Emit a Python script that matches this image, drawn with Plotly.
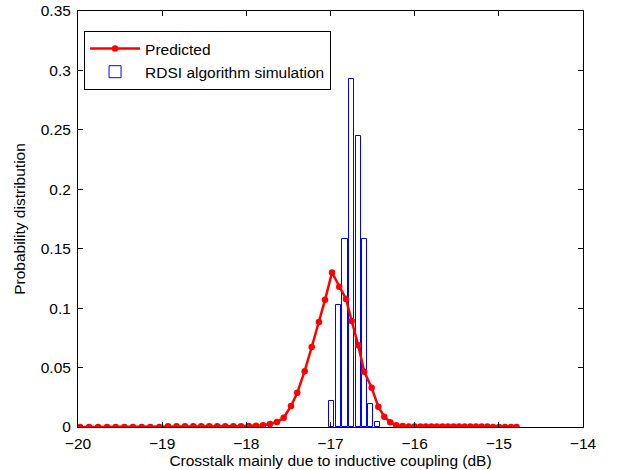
import plotly.graph_objects as go

# Predicted curve (dB, probability)
pred_x = [-19.976, -19.869, -19.762, -19.655, -19.552, -19.450, -19.347, -19.243, -19.141, -19.034,
          -18.931, -18.830, -18.729, -18.630, -18.535, -18.440, -18.345, -18.250, -18.155, -18.063,
          -17.972, -17.885, -17.802, -17.719, -17.636, -17.556, -17.469, -17.395, -17.307, -17.223,
          -17.137, -17.065, -16.982, -16.896, -16.816, -16.748, -16.670, -16.599, -16.511, -16.432,
          -16.361, -16.290, -16.218, -16.142, -16.071, -16.000, -15.931, -15.866, -15.800, -15.735,
          -15.669, -15.604, -15.539, -15.473, -15.406, -15.339, -15.271, -15.204, -15.137, -15.069,
          -14.998, -14.927, -14.856, -14.790]
pred_y = [0.0, 0.0, 0.0, 0.0, 0.0, 0.0, 0.0, 0.0, 0.0, 0.0,
          0.0006, 0.0006, 0.0006, 0.0006, 0.0006, 0.0006, 0.0006, 0.0006, 0.0006, 0.0007,
          0.0008, 0.0010, 0.0014, 0.0025, 0.0042, 0.0078, 0.0177, 0.0288, 0.0470, 0.0673,
          0.0883, 0.1070, 0.1300, 0.1180, 0.1077, 0.0892, 0.0687, 0.0465, 0.0331, 0.0171,
          0.0087, 0.0040, 0.0014, 0.0008, 0.0005, 0.0005, 0.0005, 0.0005, 0.0005, 0.0005,
          0.0005, 0.0005, 0.0005, 0.0005, 0.0005, 0.0005, 0.0005, 0.0005, 0.0005, 0.0,
          0.0, 0.0, 0.0, 0.0]

# RDSI algorithm simulation histogram
sim_x = [-16.986, -16.907, -16.828, -16.754, -16.671, -16.600, -16.522, -16.439]
sim_y = [0.022, 0.103, 0.158, 0.293, 0.245, 0.158, 0.019, 0.004]
bin_width = 0.062

x_ticks = [-20, -19, -18, -17, -16, -15, -14]
y_ticks = [0, 0.05, 0.1, 0.15, 0.2, 0.25, 0.3, 0.35]

FONT = "Liberation Sans, Arial, sans-serif"
FS = 15.5

fig = go.Figure()
fig.add_trace(go.Bar(
    x=sim_x, y=sim_y, width=bin_width,
    name="RDSI algorithm simulation",
    marker=dict(color="rgba(255,255,255,0)", line=dict(color="#0000ff", width=1)),
    legendrank=2, legendgroup="b",
))
fig.add_trace(go.Scatter(
    x=pred_x, y=pred_y, mode="lines+markers",
    name="Predicted",
    line=dict(color="#ff0000", width=2.5),
    marker=dict(color="#ff0000", size=6.5),
    legendrank=1, legendgroup="a",
))

axis_common = dict(
    showline=True, linecolor="black", linewidth=1, mirror="ticks",
    ticks="inside", ticklen=5, tickcolor="black", tickwidth=1,
    showgrid=False, zeroline=False, automargin=False,
    tickfont=dict(family=FONT, size=FS, color="black"),
)

fig.update_layout(
    width=636, height=470,
    margin=dict(l=78, r=53, t=11, b=43),
    paper_bgcolor="white", plot_bgcolor="white",
    font=dict(family=FONT, size=FS, color="black"),
    showlegend=True,
    legend=dict(
        x=0.012, y=0.952, xanchor="left", yanchor="top",
        bgcolor="white", bordercolor="black", borderwidth=1,
        font=dict(family=FONT, size=FS, color="black"),
        itemwidth=50, tracegroupgap=0,
    ),
    xaxis=dict(range=[-20, -14], tickvals=x_ticks, ticklabelstandoff=2,
               title=dict(text="Crosstalk mainly due to inductive coupling (dB)",
                          font=dict(family=FONT, size=FS, color="black"), standoff=1),
               **axis_common),
    yaxis=dict(range=[0, 0.35], tickvals=y_ticks,
               ticktext=[str(v) for v in y_ticks], ticklabelstandoff=3,
               title=dict(text="Probability distribution",
                          font=dict(family=FONT, size=FS, color="black"), standoff=11),
               **axis_common),
    bargap=0,
)

fig.write_html("out.html")
